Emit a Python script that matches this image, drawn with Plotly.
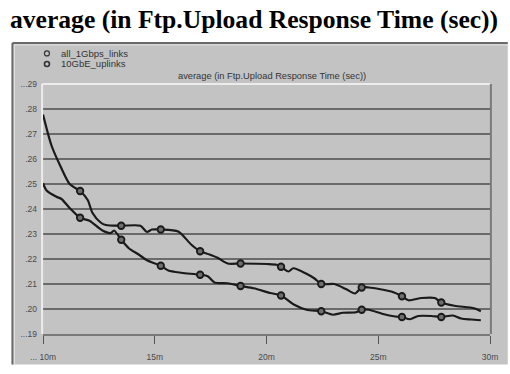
import plotly.graph_objects as go

# Response time samples (minutes, seconds)
t_1g = [10.0, 10.38, 10.75, 11.19, 11.66, 12.0, 12.21, 12.58, 12.81, 13.5, 14.36, 14.65,
        14.87, 15.27, 16.05, 16.64, 17.03, 17.45, 17.81, 18.26, 18.84, 20.02, 20.46, 20.65,
        20.98, 21.2, 21.79, 22.15, 22.45, 23.04, 23.55, 23.96, 24.26, 24.58, 25.62, 26.06,
        26.35, 26.94, 27.53, 27.82, 28.41, 29.29, 29.59]
v_1g = [0.2778, 0.2654, 0.2577, 0.2500, 0.2472, 0.2436, 0.2385, 0.2346, 0.2336, 0.2333,
        0.2333, 0.2308, 0.2318, 0.2318, 0.2310, 0.2257, 0.2231, 0.2218, 0.2205, 0.2182,
        0.2182, 0.2180, 0.2177, 0.2169, 0.2150, 0.2163, 0.2141, 0.2122, 0.2100, 0.2100,
        0.2080, 0.2062, 0.2086, 0.2086, 0.2069, 0.2051, 0.2035, 0.2044, 0.2044, 0.2026,
        0.2013, 0.2003, 0.1991]

t_10g = [10.0, 10.16, 10.6, 10.83, 11.19, 11.66, 12.08, 12.66, 13.03, 13.18, 13.5, 13.84,
         14.28, 14.65, 15.27, 15.61, 16.19, 17.03, 17.37, 17.67, 18.26, 18.84, 19.43, 20.17,
         20.65, 21.2, 21.79, 22.45, 22.97, 23.41, 24.0, 24.26, 24.58, 25.17, 25.76, 26.06,
         26.42, 26.79, 27.38, 27.82, 28.34, 28.71, 29.15, 29.59]
v_10g = [0.2503, 0.2474, 0.2449, 0.2440, 0.2404, 0.2365, 0.2353, 0.2314, 0.2304, 0.2314,
         0.2277, 0.2243, 0.2218, 0.2195, 0.2173, 0.2154, 0.2145, 0.2137, 0.2131, 0.2106,
         0.2103, 0.2092, 0.2083, 0.2064, 0.2054, 0.2019, 0.1997, 0.1991, 0.1977, 0.1985,
         0.1987, 0.1997, 0.1997, 0.1981, 0.1970, 0.1968, 0.1959, 0.1972, 0.1972, 0.1968,
         0.1974, 0.1962, 0.1958, 0.1955]

# Sample times that carry a marker
marker_times = [11.66, 13.5, 15.27, 17.03, 18.84, 20.65, 22.45, 24.26, 26.06, 27.82]

series_names = ["all_1Gbps_links", "10GbE_uplinks"]
y_ticks = [0.19, 0.20, 0.21, 0.22, 0.23, 0.24, 0.25, 0.26, 0.27, 0.28, 0.29]
y_labels = ["...19", ".20", ".21", ".22", ".23", ".24", ".25", ".26", ".27", ".28", "...29"]
x_ticks = [10, 15, 20, 25, 30]
x_labels = ["... 10m", "15m", "20m", "25m", "30m"]

W, H = 510, 374
L, R, T, B = 43, 14, 84, 28
PW, PH = W - L - R, H - T - B

PANEL = "#c3c3c3"
GRID = "#6a6a6a"
INK = "#1a1a1a"
LABEL = "#4a4a4a"


def px_x(px):
    return (px - L) / PW


def px_y(py):
    return (H - B - py) / PH


fig = go.Figure()

for t, v in [(t_1g, v_1g), (t_10g, v_10g)]:
    fig.add_trace(go.Scatter(
        x=t, y=v, mode="lines", showlegend=False,
        line=dict(color=INK, width=2.2, shape="spline", smoothing=0.7),
        hoverinfo="skip"))
    mt = [ti for ti in t if ti in marker_times]
    mv = [vi for ti, vi in zip(t, v) if ti in marker_times]
    fig.add_trace(go.Scatter(
        x=mt, y=mv, mode="markers", showlegend=False,
        marker=dict(symbol="circle", size=6.5, color="#6e6e6e",
                    line=dict(color=INK, width=1.8)),
        hoverinfo="skip"))

shapes = []
# gray panel behind everything
shapes.append(dict(type="rect", xref="paper", yref="paper", layer="below",
                   x0=px_x(12), x1=px_x(W + 4), y0=px_y(H + 4), y1=px_y(41),
                   fillcolor=PANEL, line=dict(width=0)))
# panel bevel edges
shapes.append(dict(type="line", xref="paper", yref="paper", layer="below",
                   x0=px_x(12), x1=px_x(W + 4), y0=px_y(41), y1=px_y(41),
                   line=dict(color="#6a6a6a", width=2)))
shapes.append(dict(type="line", xref="paper", yref="paper", layer="below",
                   x0=px_x(12), x1=px_x(12), y0=px_y(41), y1=px_y(H + 4),
                   line=dict(color="#6a6a6a", width=2)))
shapes.append(dict(type="line", xref="paper", yref="paper", layer="below",
                   x0=px_x(14), x1=px_x(W + 4), y0=px_y(43), y1=px_y(43),
                   line=dict(color="#e4e4e4", width=1)))
shapes.append(dict(type="line", xref="paper", yref="paper", layer="below",
                   x0=px_x(14), x1=px_x(14), y0=px_y(43), y1=px_y(H + 4),
                   line=dict(color="#e4e4e4", width=1)))

# horizontal grid rules at the inner ticks
for yv in y_ticks[1:-1]:
    shapes.append(dict(type="line", xref="paper", yref="y", layer="below",
                       x0=0, x1=1, y0=yv, y1=yv, line=dict(color=GRID, width=2)))

# plot frame: light top/left, dark right/bottom
shapes.append(dict(type="line", xref="paper", yref="paper", layer="below",
                   x0=-0.002, x1=1, y0=1, y1=1, line=dict(color="#ececec", width=2)))
shapes.append(dict(type="line", xref="paper", yref="paper", layer="below",
                   x0=-0.002, x1=-0.002, y0=0, y1=1, line=dict(color="#ececec", width=2)))
shapes.append(dict(type="line", xref="paper", yref="paper", layer="below",
                   x0=1.002, x1=1.002, y0=0, y1=1.0, line=dict(color="#7a7a7a", width=2)))

# legend symbols
for i, py in enumerate([52, 63]):
    shapes.append(dict(type="circle", xref="paper", yref="paper",
                       xsizemode="pixel", ysizemode="pixel",
                       xanchor=px_x(47), yanchor=px_y(py),
                       x0=-2.5, x1=2.5, y0=-2.5, y1=2.5,
                       line=dict(color="#333333", width=1.2 + 0.4 * i)))

annotations = []
for name, py in zip(series_names, [52, 63]):
    annotations.append(dict(text=name, xref="paper", yref="paper",
                            x=px_x(59), y=px_y(py), xanchor="left", yanchor="middle",
                            showarrow=False,
                            font=dict(family="Arial", size=9.5, color="#333333")))
annotations.append(dict(text="average (in Ftp.Upload Response Time (sec))",
                        xref="paper", yref="paper", x=px_x(275), y=px_y(76),
                        xanchor="center", yanchor="middle", showarrow=False,
                        font=dict(family="Arial", size=9.3, color="#333333")))

fig.update_layout(
    width=W, height=H,
    margin=dict(l=L, r=R, t=T, b=B, pad=0),
    paper_bgcolor="white",
    plot_bgcolor=PANEL,
    title=dict(text="<b>average (in Ftp.Upload Response Time (sec))</b>",
               x=10 / W, xanchor="left", y=1 - 19 / H, yanchor="middle",
               font=dict(family="Liberation Serif", size=25.6, color="black")),
    shapes=shapes,
    annotations=annotations,
    xaxis=dict(range=[10, 30], tickvals=x_ticks, ticktext=x_labels,
               showgrid=False, zeroline=False,
               showline=True, linecolor="#7a7a7a", linewidth=2,
               ticks="outside", ticklen=8, tickwidth=1, tickcolor="#555555",
               ticklabelstandoff=6,
               tickfont=dict(family="Arial", size=8.5, color=LABEL)),
    yaxis=dict(range=[0.19, 0.29], tickvals=y_ticks, ticktext=y_labels,
               showgrid=False, zeroline=False, showline=False,
               ticks="", ticklabelstandoff=5,
               tickfont=dict(family="Arial", size=8.5, color=LABEL)),
)

fig.write_html("out.html")
